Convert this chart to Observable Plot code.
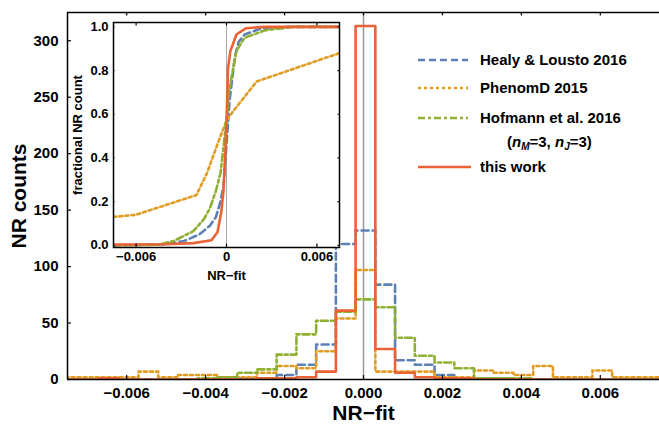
<!DOCTYPE html>
<html><head><meta charset="utf-8">
<script src="https://cdn.jsdelivr.net/npm/d3@7"></script>
<script src="https://cdn.jsdelivr.net/npm/@observablehq/plot@0.6"></script>
<style>
body{margin:0;background:#fff;font-family:"Liberation Sans",Arial,sans-serif;}
#wrap{position:relative;width:659px;height:428px;overflow:hidden;}
#main{position:absolute;left:0;top:0;}
#inset{position:absolute;left:70px;top:15px;}
.lg{position:absolute;font-weight:bold;font-size:15px;line-height:18px;white-space:nowrap;color:#000;}
.lg svg{position:absolute;}
#main g[aria-label="x-axis label"] text, #main g[aria-label="y-axis label"] text{font-size:21px;}
#inset g[aria-label="x-axis label"] text, #inset g[aria-label="y-axis label"] text{font-size:13px;}
</style></head><body>
<div id="wrap"><div id="main"></div><div id="inset"></div></div>
<script>
// ---- histogram data (bin left edges, bin width 0.0005) ----
const binStart = [-0.0077,-0.0072,-0.0067,-0.0062,-0.0057,-0.0052,-0.0047,-0.0042,-0.0037,-0.0032,-0.0027,-0.0022,-0.0017,-0.0012,-0.0007,-0.0002,0.0003,0.0008,0.0013,0.0018,0.0023,0.0028,0.0033,0.0038,0.0043,0.0048,0.0053,0.0058,0.0063,0.0068,0.0073];
const binWidth = 0.0005;
const healyCounts   = [0,0,0,0,0,0,0,0,0,1,1,4,13,31,120,132,84,17,13,4,1,1,1,0,0,0,0,0,0,0,0];
const phenomCounts  = [2,2,2,2,7,2,4,4,2,2,6,12,10,25,54,97,7,7,7,2,2,8,6,4,12,2,2,8,2,2,2];
const hofmannCounts = [0,0,0,0,0,0,0,1,2,6,9,22,40,52,60,71,64,37,21,15,10,1,1,1,0,0,0,0,0,0,0];
const workCounts    = [0,0,1,0,0,0,0,0,0,0,1,1,2,7,61,313,27,6,2,1,1,0,0,0,0,0,0,0,0,0,0];

// ---- inset cumulative curves [NR-fit, fraction] ----
const cdfHealy = [[-0.0075,0],[-0.004,0.005],[-0.0028,0.02],[-0.0018,0.05],[-0.0011,0.09],[-0.0007,0.13],[-0.0004,0.2],[-0.0002,0.27],[0,0.46],[0.0002,0.66],[0.00055,0.86],[0.0008,0.93],[0.0012,0.965],[0.0022,0.99],[0.004,1.0],[0.0075,1.0]];
const cdfPhenom = [[-0.0075,0.13],[-0.006,0.14],[-0.002,0.23],[-0.0013,0.33],[-0.0004,0.5],[0,0.57],[0.0004,0.61],[0.002,0.75],[0.0075,0.88]];
const cdfHofmann = [[-0.0075,0],[-0.0045,0.003],[-0.0035,0.02],[-0.0022,0.065],[-0.0015,0.12],[-0.0011,0.17],[-0.0007,0.25],[-0.0004,0.33],[-0.0001,0.51],[0.0002,0.72],[0.00066,0.89],[0.0012,0.95],[0.0026,0.985],[0.0045,1.0],[0.0075,1.0]];
const cdfWork = [[-0.0075,0.003],[-0.004,0.005],[-0.0022,0.01],[-0.001,0.023],[-0.0006,0.06],[-0.00035,0.15],[-0.0002,0.25],[-0.0001,0.4],[0,0.55],[0.0001,0.81],[0.00026,0.89],[0.00066,0.965],[0.0013,0.994],[0.0025,1.0],[0.0075,1.0]];

// ---- labels / ticks ----
const seriesNames = ["Healy & Lousto 2016","PhenomD 2015","Hofmann et al. 2016","this work"];
const xTicks = [-0.006,-0.004,-0.002,0,0.002,0.004,0.006];
const yTicks = [0,50,100,150,200,250,300];
const insetXTicks = [-0.006,0,0.006];
const insetYTicks = [0,0.2,0.4,0.6,0.8,1.0];

const colors = ["#5E81B5","#E19C24","#8FB032","#EB6235"];
const dashes = ["7,4","3,3","7,3,3,3",null];
const counts = [healyCounts, phenomCounts, hofmannCounts, workCounts];
const cdfs = [cdfHealy, cdfPhenom, cdfHofmann, cdfWork];

function steps(c){
  const pts = binStart.map((x,i)=>({x, y:c[i]}));
  pts.push({x: binStart[binStart.length-1]+binWidth, y: c[c.length-1]});
  return pts;
}
const font = '"Liberation Sans", Arial, sans-serif';
const xmin = -0.0075, xmax = 0.0075, ymax = 325;

const histMarks = counts.map((c,i)=>Plot.line(steps(c), {x:"x", y:"y", curve:"step-after", stroke:colors[i], strokeWidth:2.6, strokeDasharray:dashes[i], clip:true}));

const main = Plot.plot({
  width:659, height:428, marginLeft:67, marginRight:0, marginTop:12, marginBottom:49,
  style:{fontFamily:font, fontWeight:"bold", fontSize:"15px", color:"#000", background:"transparent"},
  x:{domain:[xmin,xmax]},
  y:{domain:[0,ymax]},
  marks:[
    Plot.ruleX([0], {stroke:"#999", strokeWidth:1.5}),
    ...histMarks,
    Plot.ruleY([0, ymax], {stroke:"#000", strokeWidth:1.5}),
    Plot.ruleX([xmin], {stroke:"#000", strokeWidth:1.5}),
    Plot.ruleX(xTicks, {y1:0, y2:3.5, stroke:"#000", strokeWidth:1.2}),
    Plot.ruleX(xTicks, {y1:ymax-3, y2:ymax, stroke:"#000", strokeWidth:1.2}),
    Plot.ruleY(yTicks, {x1:xmin, x2:xmin+0.0001, stroke:"#000", strokeWidth:1.2}),
    Plot.axisX({ticks:xTicks, tickSize:0, tickPadding:8, tickFormat:d3.format(".3f"), label:"NR\u2212fit", labelAnchor:"center", labelArrow:"none", labelOffset:40}),
    Plot.axisY({ticks:yTicks, tickSize:0, tickPadding:9, label:"NR counts", labelAnchor:"center", labelArrow:"none", labelOffset:56})
  ]
});
document.getElementById("main").append(main);

const inset = Plot.plot({
  width:280, height:270, marginLeft:43, marginRight:11, marginTop:7, marginBottom:38,
  style:{fontFamily:font, fontWeight:"bold", fontSize:"13px", color:"#000", background:"transparent"},
  x:{domain:[xmin,xmax]},
  y:{domain:[-0.01,1.02]},
  marks:[
    Plot.frame({fill:"white", stroke:"none"}),
    Plot.ruleX([0], {stroke:"#aaa", strokeWidth:1}),
    ...cdfs.map((d,i)=>Plot.line(d, {x:d=>d[0], y:d=>d[1], stroke:colors[i], strokeWidth:2.6, strokeDasharray:dashes[i], clip:true})),
    Plot.frame({stroke:"#000", strokeWidth:1.5}),
    Plot.ruleX(insetXTicks, {y1:-0.01, y2:0.006, stroke:"#000", strokeWidth:1.2}),
    Plot.ruleX(insetXTicks, {y1:1.004, y2:1.02, stroke:"#000", strokeWidth:1.2}),
    Plot.ruleY(insetYTicks, {x1:xmin, x2:xmin+0.0001, stroke:"#000", strokeWidth:1.2}),
    Plot.ruleY(insetYTicks, {x1:xmax-0.0001, x2:xmax, stroke:"#000", strokeWidth:1.2}),
    Plot.axisX({ticks:insetXTicks, tickSize:0, tickPadding:4, tickFormat:d=>d===0?"0":d3.format(".3f")(d), label:"NR\u2212fit", labelAnchor:"center", labelArrow:"none", labelOffset:32}),
    Plot.axisY({ticks:insetYTicks, tickSize:0, tickPadding:5, tickFormat:d3.format(".1f"), label:"fractional NR count", labelAnchor:"center", labelArrow:"none", labelOffset:41})
  ]
});
document.getElementById("inset").append(inset);

// ---- legend ----
const wrap = document.getElementById("wrap");
const rowY = [60, 88, 118, 167];
seriesNames.forEach((name,i)=>{
  const s = document.createElementNS("http://www.w3.org/2000/svg","svg");
  s.setAttribute("width", 56); s.setAttribute("height", 8);
  s.style.position = "absolute"; s.style.left = "418px"; s.style.top = (rowY[i]-4)+"px";
  const l = document.createElementNS("http://www.w3.org/2000/svg","line");
  l.setAttribute("x1",0); l.setAttribute("x2", i===3?53:50); l.setAttribute("y1",4); l.setAttribute("y2",4);
  l.setAttribute("stroke", colors[i]); l.setAttribute("stroke-width", 2.6);
  if (dashes[i]) l.setAttribute("stroke-dasharray", dashes[i]);
  s.append(l); wrap.append(s);
  const t = document.createElement("div");
  t.className = "lg"; t.style.left = "480px"; t.style.top = (rowY[i]-9)+"px";
  t.textContent = name; wrap.append(t);
});
const sub = document.createElement("div");
sub.className = "lg"; sub.style.left = "507px"; sub.style.top = (142-9)+"px";
sub.innerHTML = '(<i>n</i><sub style="font-size:10px;vertical-align:-3px"><i>M</i></sub>=3, <i>n</i><sub style="font-size:10px;vertical-align:-3px"><i>J</i></sub>=3)';
wrap.append(sub);
</script>
</body></html>
